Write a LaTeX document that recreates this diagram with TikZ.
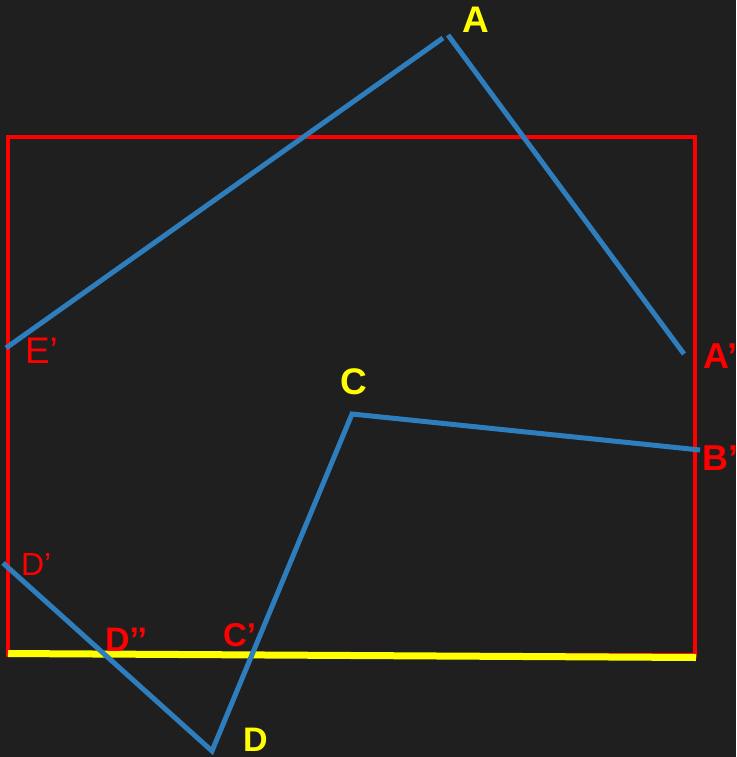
\documentclass[tikz,border=0pt]{standalone}
\usepackage{fontspec}
\setmainfont{Liberation Sans}
\definecolor{bgc}{RGB}{31,31,31}
\definecolor{segc}{RGB}{46,125,188}
\definecolor{redc}{RGB}{255,0,0}
\definecolor{ylwc}{RGB}{255,255,0}
\tikzset{
  segline/.style={draw=segc, line width=5pt},
  framebox/.style={draw=redc, line width=4pt},
  edgeline/.style={draw=ylwc, line width=7pt},
  lbl/.style={inner sep=0pt, outer sep=0pt, anchor=base west},
  ylab/.style={lbl, text=ylwc, font=\bfseries\fontsize{37}{40}\selectfont},
  rlab/.style={lbl, text=redc, font=\bfseries\fontsize{36}{40}\selectfont},
  rthin/.style={lbl, text=redc, font=\fontsize{37}{40}\selectfont}
}
\begin{document}
\begin{tikzpicture}[x=1pt,y=-1pt]
\fill[bgc] (0,0) rectangle (736,757);
\useasboundingbox (0,0) rectangle (736,757);
% frame
\coordinate (r1) at (8,137);
\coordinate (r2) at (695,655);
\draw[framebox] (r1) rectangle (r2);
\coordinate (y1) at (8,653.5);
\coordinate (y2) at (696,657.5);
\draw[edgeline] (y1) -- (y2);
% blue segments
\coordinate (Ep) at (6,348);
\coordinate (Atop) at (443,38);
\coordinate (A) at (448,35);
\coordinate (Ap) at (684,354);
\coordinate (C) at (352,414);
\coordinate (Bp) at (700,450);
\coordinate (D) at (212,751);
\coordinate (Dp) at (3,563);
\draw[segline] (Ep) -- (Atop);
\draw[segline] (A) -- (Ap);
\draw[segline] (Dp) -- (D) -- (C) -- (Bp);
% labels
\node[ylab] (lA) at (462,33) {A};
\node[ylab] (lC) at (340,394) {C};
\node[ylab, font=\bfseries\fontsize{34}{40}\selectfont] (lD) at (243,751) {D};
\node[rthin] (lEp) at (25,363) {E’};
\node[rthin, font=\fontsize{32}{36}\selectfont] (lDp) at (21,575) {D’};
\node[rlab] (lAp) at (703,368) {A’};
\node[rlab] (lBp) at (702,470) {B’};
\node[rlab, font=\bfseries\fontsize{34}{36}\selectfont] (lDpp) at (105,651) {D’’};
\node[rlab, font=\bfseries\fontsize{33}{36}\selectfont] (lCp) at (223,646) {C’};
\end{tikzpicture}
\end{document}
